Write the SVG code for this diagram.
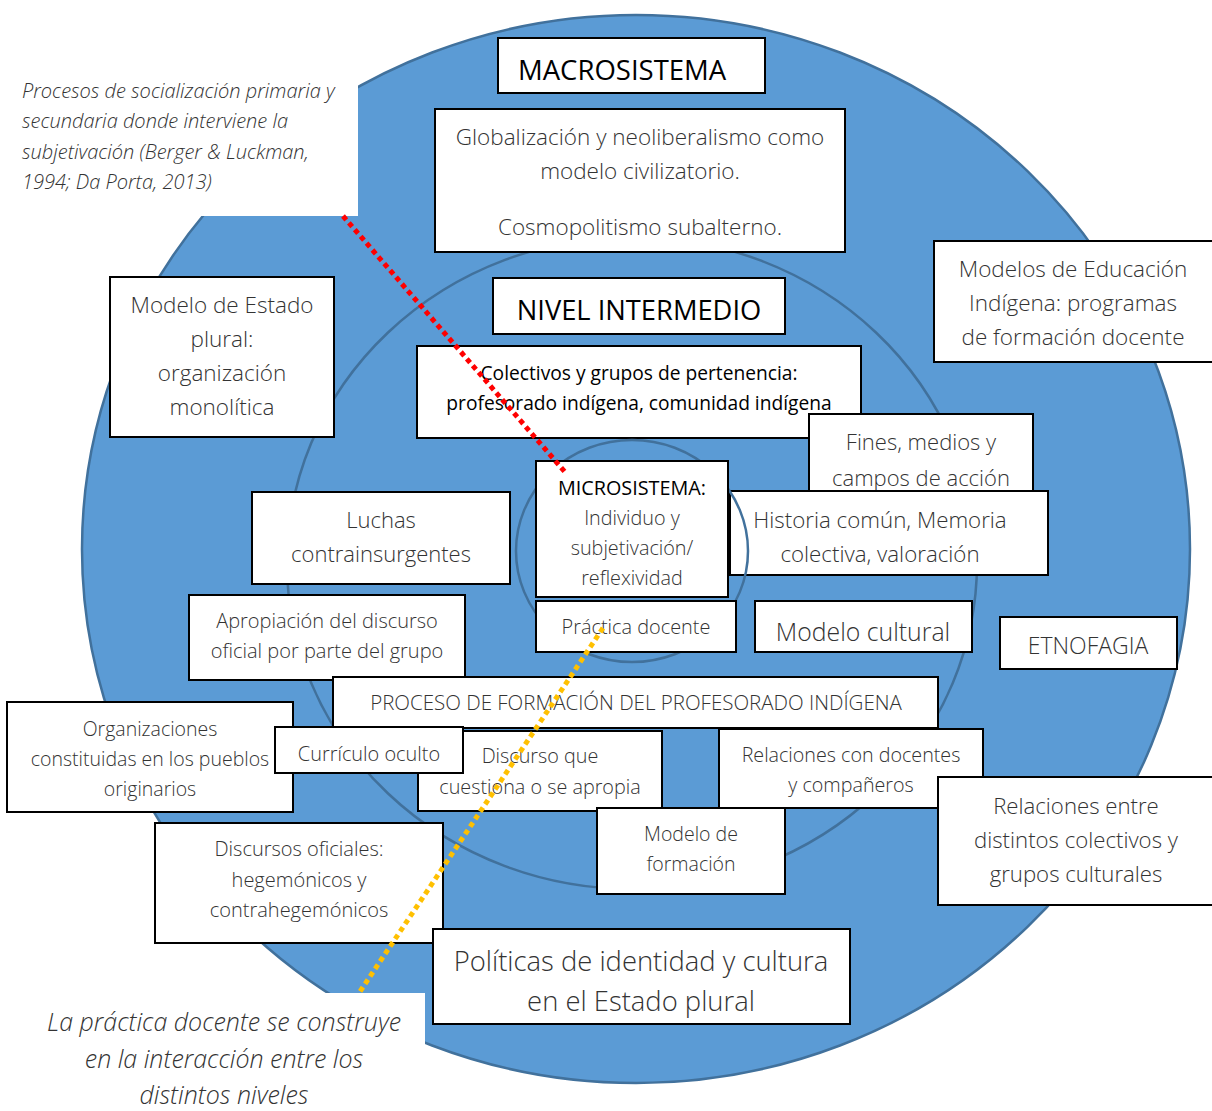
<svg xmlns="http://www.w3.org/2000/svg" width="1212" height="1111" viewBox="0 0 1212 1111">
<style>
.box{fill:#fff;stroke:#000;stroke-width:2}
.ring{fill:none;stroke:#41719C;stroke-width:2.5}
.t{font-family:"Open Sans","Noto Sans","Liberation Sans",sans-serif;font-weight:300;fill:#333;text-anchor:middle}
.b{font-weight:400;fill:#000}
.it{font-family:"Open Sans","Noto Sans","Liberation Sans",sans-serif;font-weight:300;font-style:italic;fill:#333}
.dot{fill:none;stroke-width:5;stroke-dasharray:5 4}
</style>
<rect width="1212" height="1111" fill="#fff"/>
<g id="circles">
<ellipse cx="636" cy="549" rx="554" ry="534" fill="#5B9BD5" stroke="#41719C" stroke-width="2.5"/>
<ellipse class="ring" cx="632" cy="563" rx="345" ry="326"/>
</g>
<g id="macrosistema"><rect class="box" x="498" y="38" width="267" height="55"/><text class="t b" x="518" y="80" font-size="27.5" style="text-anchor:start">MACROSISTEMA</text></g>
<g id="globalizacion"><rect class="box" x="435" y="109" width="410" height="143"/><text class="t" font-size="22.5"><tspan x="640" y="145">Globalización y neoliberalismo como</tspan><tspan x="640" y="179">modelo civilizatorio.</tspan><tspan x="640" y="235">Cosmopolitismo subalterno.</tspan></text></g>
<g id="nivel-intermedio"><rect class="box" x="493" y="278" width="292" height="56"/><text class="t b" x="639" y="320" font-size="27.3">NIVEL INTERMEDIO</text></g>
<g id="colectivos"><rect class="box" x="417" y="346" width="444" height="92"/><text class="t b" font-size="19.2"><tspan x="639" y="380">Colectivos y grupos de pertenencia:</tspan><tspan x="639" y="410">profesorado indígena, comunidad indígena</tspan></text></g>
<g id="modelo-estado"><rect class="box" x="110" y="277" width="224" height="160"/><text class="t" font-size="22.5"><tspan x="222" y="313">Modelo de Estado</tspan><tspan x="222" y="347">plural:</tspan><tspan x="222" y="381">organización</tspan><tspan x="222" y="415">monolítica</tspan></text></g>
<g id="modelos-educacion"><rect class="box" x="934" y="241" width="280" height="121"/><text class="t" font-size="22.5"><tspan x="1073" y="277">Modelos de Educación</tspan><tspan x="1073" y="311">Indígena: programas</tspan><tspan x="1073" y="345">de formación docente</tspan></text></g>
<g id="fines"><rect class="box" x="809" y="414" width="224" height="78"/><text class="t" font-size="22"><tspan x="921" y="450">Fines, medios y</tspan><tspan x="921" y="486">campos de acción</tspan></text></g>
<g id="historia"><rect class="box" x="730" y="491" width="318" height="84"/><text class="t" font-size="22.3"><tspan x="880" y="528">Historia común, Memoria</tspan><tspan x="880" y="562">colectiva, valoración</tspan></text></g>
<ellipse class="ring" cx="632" cy="551" rx="116" ry="111"/>
<g id="luchas"><rect class="box" x="252" y="492" width="258" height="92"/><text class="t" font-size="22"><tspan x="381" y="528">Luchas</tspan><tspan x="381" y="562">contrainsurgentes</tspan></text></g>
<g id="microsistema"><rect class="box" x="536" y="461" width="192" height="136"/><text class="t" font-size="19.8"><tspan class="b" x="632" y="495">MICROSISTEMA:</tspan><tspan x="632" y="525">Individuo y</tspan><tspan x="632" y="555">subjetivación/</tspan><tspan x="632" y="585">reflexividad</tspan></text></g>
<g id="apropiacion"><rect class="box" x="189" y="595" width="276" height="85"/><text class="t" font-size="20"><tspan x="327" y="628">Apropiación del discurso</tspan><tspan x="327" y="658">oficial por parte del grupo</tspan></text></g>
<g id="practica"><rect class="box" x="536" y="601" width="200" height="51"/><text class="t" x="636" y="634" font-size="19.9">Práctica docente</text></g>
<g id="modelo-cultural"><rect class="box" x="755" y="601" width="217" height="51"/><text class="t" x="863" y="641" font-size="24.8">Modelo cultural</text></g>
<g id="etnofagia"><rect class="box" x="1000" y="617" width="177" height="52"/><text class="t" x="1088" y="654" font-size="23">ETNOFAGIA</text></g>
<g id="proceso"><rect class="box" x="333" y="677" width="605" height="51"/><text class="t" x="636" y="710" font-size="20.5">PROCESO DE FORMACIÓN DEL PROFESORADO INDÍGENA</text></g>
<g id="organizaciones"><rect class="box" x="7" y="702" width="286" height="110"/><text class="t" font-size="19.5"><tspan x="150" y="736">Organizaciones</tspan><tspan x="150" y="766">constituidas en los pueblos</tspan><tspan x="150" y="796">originarios</tspan></text></g>
<g id="discurso-que"><rect class="box" x="418" y="731" width="244" height="80"/><text class="t" font-size="19.8"><tspan x="540" y="763">Discurso que</tspan><tspan x="540" y="794">cuestiona o se apropia</tspan></text></g>
<g id="curriculo"><rect class="box" x="275" y="727" width="188" height="46"/><text class="t" x="369" y="761" font-size="19.9">Currículo oculto</text></g>
<g id="relaciones-docentes"><rect class="box" x="719" y="729" width="264" height="79"/><text class="t" font-size="19.7"><tspan x="851" y="762">Relaciones con docentes</tspan><tspan x="851" y="792">y compañeros</tspan></text></g>
<g id="modelo-formacion"><rect class="box" x="597" y="808" width="188" height="86"/><text class="t" font-size="19.5"><tspan x="691" y="841">Modelo de</tspan><tspan x="691" y="871">formación</tspan></text></g>
<g id="relaciones-entre"><rect class="box" x="938" y="777" width="276" height="128"/><text class="t" font-size="22.2"><tspan x="1076" y="814">Relaciones entre</tspan><tspan x="1076" y="848">distintos colectivos y</tspan><tspan x="1076" y="882">grupos culturales</tspan></text></g>
<g id="discursos-oficiales"><rect class="box" x="155" y="823" width="288" height="120"/><text class="t" font-size="20"><tspan x="299" y="856">Discursos oficiales:</tspan><tspan x="299" y="887">hegemónicos y</tspan><tspan x="299" y="917">contrahegemónicos</tspan></text></g>
<g id="politicas"><rect class="box" x="433" y="929" width="417" height="95"/><text class="t" font-size="27.4"><tspan x="641" y="971">Políticas de identidad y cultura</tspan><tspan x="641" y="1011">en el Estado plural</tspan></text></g>
<rect x="0" y="60" width="358" height="156" fill="#fff"/>
<g id="nota-socializacion"><text class="it" font-size="20"><tspan x="22" y="98">Procesos de socialización primaria y</tspan><tspan x="22" y="128">secundaria donde interviene la</tspan><tspan x="22" y="159">subjetivación (Berger &amp; Luckman,</tspan><tspan x="22" y="189">1994; Da Porta, 2013)</tspan></text></g>
<rect x="0" y="993" width="425" height="118" fill="#fff"/>
<g id="nota-practica"><text class="it" font-size="25" text-anchor="middle"><tspan x="224" y="1031">La práctica docente se construye</tspan><tspan x="224" y="1068">en la interacción entre los</tspan><tspan x="224" y="1104">distintos niveles</tspan></text></g>
<g id="connectors">
<line class="dot" x1="343" y1="216" x2="565" y2="472" stroke="#FF0000"/>
<line class="dot" x1="603" y1="628" x2="359" y2="993" stroke="#FFC000"/>
</g>
</svg>
